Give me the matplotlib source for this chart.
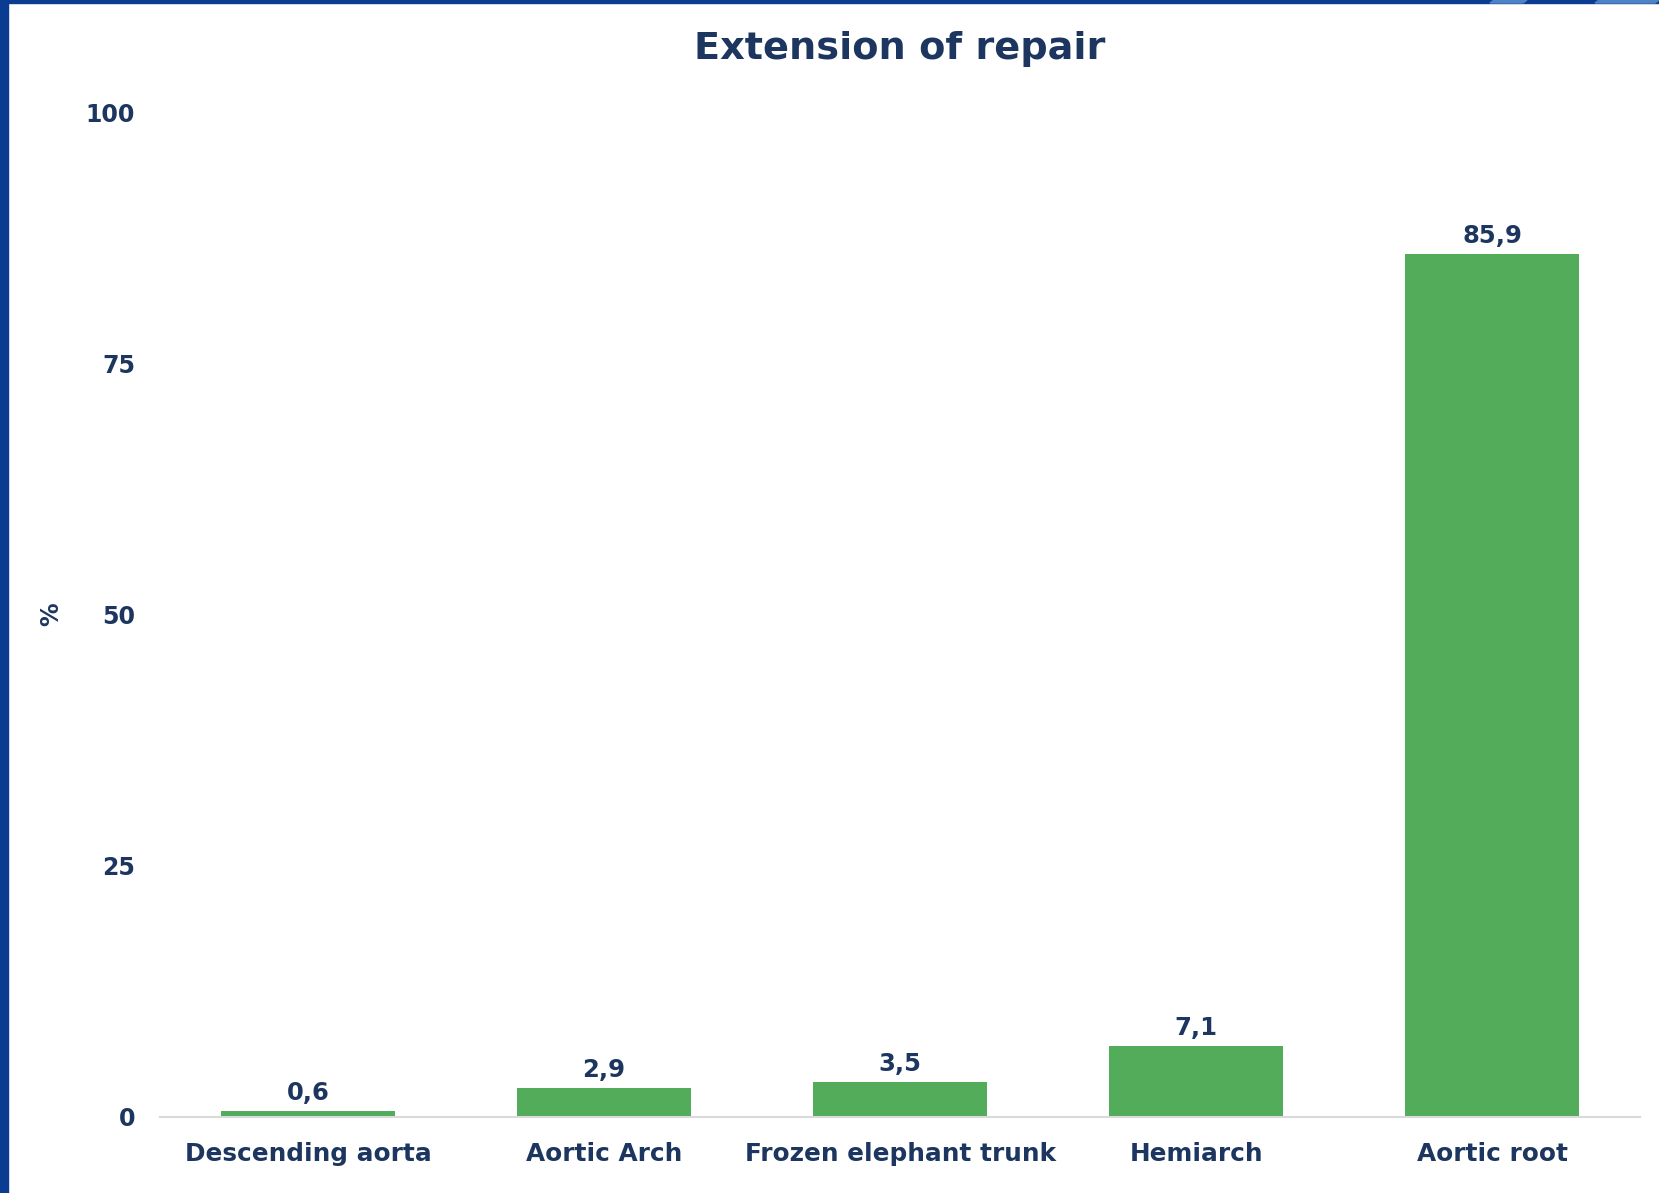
import matplotlib
matplotlib.use("Agg")
import matplotlib.pyplot as plt
from matplotlib.patches import Rectangle, Polygon

categories = ["Descending aorta", "Aortic Arch", "Frozen elephant trunk", "Hemiarch", "Aortic root"]
values = [0.6, 2.9, 3.5, 7.1, 85.9]
value_labels = ["0,6", "2,9", "3,5", "7,1", "85,9"]
yticks = [0, 25, 50, 75, 100]

navy = "#1c3660"
green = "#52ac5a"
frame_blue = "#0a3d91"

plt.rcParams["font.family"] = ["DejaVu Sans"]
plt.rcParams["font.weight"] = "bold"

W, H = 1659, 1193
fig = plt.figure(figsize=(W / 100, H / 100), dpi=100)
fig.patch.set_facecolor("white")

ax = fig.add_axes([160 / W, 1 - 1117 / H, (1640 - 160) / W, (1117 - 112) / H])
x = range(len(categories))
ax.bar(x, values, width=0.585, color=green, zorder=2)
ax.set_xlim(-0.5, len(categories) - 0.5)
ax.set_ylim(0, 100)

for xi, v, lab in zip(x, values, value_labels):
    ax.annotate(lab, (xi, v), xytext=(0, 4), textcoords="offset points",
                ha="center", va="bottom", fontsize=17.5, fontweight="bold", color=navy)

for s in ["top", "right", "left"]:
    ax.spines[s].set_visible(False)
ax.spines["bottom"].set_color("#d9d9d9")
ax.spines["bottom"].set_linewidth(1.5)

ax.set_xticks(list(x))
ax.set_xticklabels(categories, fontsize=17.8, fontweight="bold", color=navy)
ax.set_yticks(yticks)
ax.set_yticklabels([str(t) for t in yticks], fontsize=17, fontweight="bold", color=navy)
ax.tick_params(axis="x", length=0, pad=18)
ax.tick_params(axis="y", length=0, pad=18)
ax.set_ylabel("%", fontsize=17, fontweight="bold", color=navy)
ax.yaxis.set_label_coords(-97 / (1640 - 160), 0.5)

fig.text(900 / W, 1 - 49 / H, "Extension of repair", ha="center", va="center",
         fontsize=27.5, fontweight="bold", color=navy)

# page frame: left bar and top strip with lighter diagonal accents
fig.add_artist(Rectangle((0, 0), 8 / W, 1, transform=fig.transFigure, color=frame_blue, zorder=10))
fig.add_artist(Rectangle((0, 1 - 3 / H), 1, 3 / H, transform=fig.transFigure, color=frame_blue, zorder=10))
for x0, x1 in [(1490, 1527), (1595, 1659)]:
    fig.add_artist(Polygon([(x0 / W, 1 - 3 / H), ((x0 + 4) / W, 1), (x1 / W, 1), ((x1 - 4) / W, 1 - 3 / H)],
                           closed=True, transform=fig.transFigure, color="#4f82c4", zorder=11))

fig.savefig("out.png", dpi=100)
